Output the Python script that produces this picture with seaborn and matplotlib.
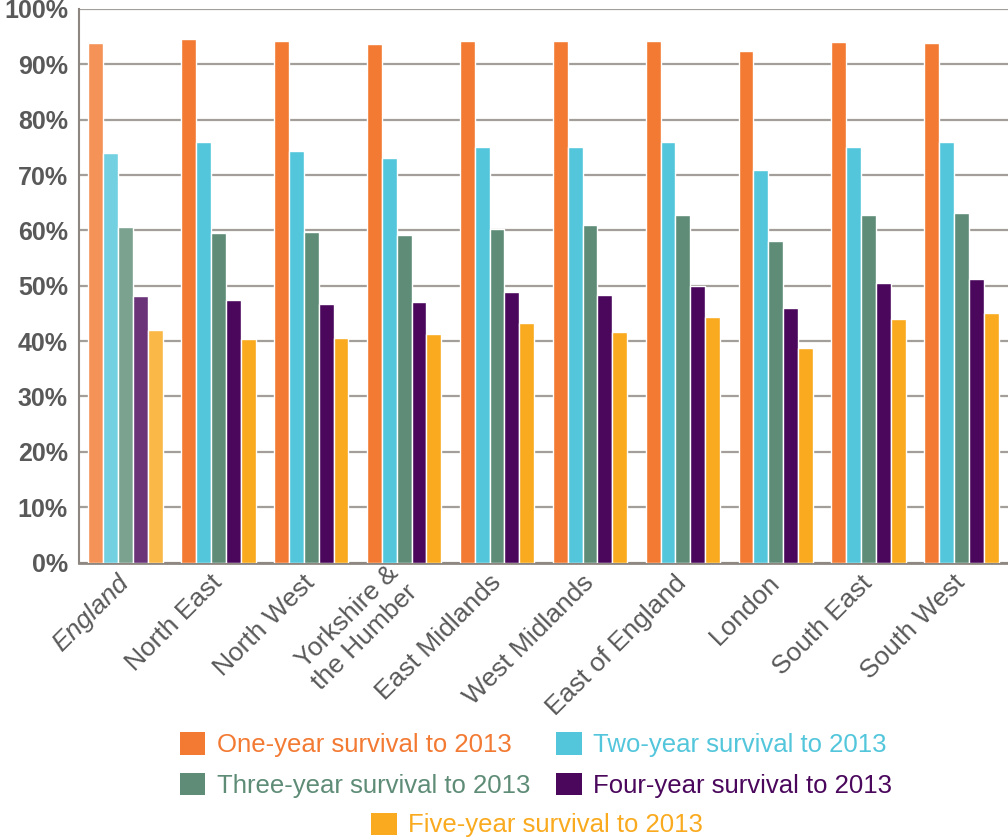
import matplotlib
matplotlib.use("Agg")
import matplotlib.pyplot as plt
import matplotlib.colors as mcolors
from matplotlib.patches import Patch
from matplotlib.ticker import FixedLocator, FuncFormatter
import numpy as np
import pandas as pd
import seaborn as sns

# Survival rates (%) by region
regions = ["England", "North East", "North West", "Yorkshire &\nthe Humber",
           "East Midlands", "West Midlands", "East of England", "London",
           "South East", "South West"]
series_names = ["One-year survival to 2013", "Two-year survival to 2013",
                "Three-year survival to 2013", "Four-year survival to 2013",
                "Five-year survival to 2013"]
one_year = [93.8, 94.5, 94.3, 93.6, 94.3, 94.3, 94.3, 92.5, 94.1, 93.9]
two_year = [73.9, 75.9, 74.4, 73.1, 75.1, 75.0, 75.9, 71.0, 75.1, 75.9]
three_year = [60.7, 59.6, 59.8, 59.2, 60.3, 61.0, 62.8, 58.1, 62.7, 63.2]
four_year = [48.2, 47.5, 46.7, 47.1, 48.9, 48.4, 50.0, 46.0, 50.5, 51.3]
five_year = [42.0, 40.4, 40.6, 41.3, 43.3, 41.7, 44.4, 38.8, 44.0, 45.1]
y_ticks = [0, 10, 20, 30, 40, 50, 60, 70, 80, 90, 100]

colors = ["#F37A33", "#53C6DB", "#5E8C77", "#4A075C", "#F9AA1E"]
text_grey = "#595959"
axis_grey = "#8E8781"
grid_grey = "#A39E99"

values = [one_year, two_year, three_year, four_year, five_year]
df = pd.DataFrame({
    "region": np.repeat([regions], len(series_names), axis=0).ravel(),
    "series": np.repeat(series_names, len(regions)),
    "value": np.concatenate(values),
})

sns.set_style("white")
plt.rcParams["font.family"] = ["Liberation Sans", "DejaVu Sans"]

fig = plt.figure(figsize=(10.08, 8.4), dpi=100)
ax = fig.add_axes([79 / 1008, 1 - 562.5 / 840, 1 - 79 / 1008, 553.5 / 840])

sns.barplot(data=df, x="region", y="value", hue="series", order=regions,
            hue_order=series_names, palette=colors, saturation=1, width=0.8,
            edgecolor="white", linewidth=1.0, legend=False, ax=ax, zorder=3)

# Lighter tint for the national (England) bars
for container, c in zip(ax.containers, colors):
    rgb = np.array(mcolors.to_rgb(c))
    light = rgb + (1 - rgb) * 0.18
    container.patches[0].set_facecolor(light)

ax.set_xlim(-0.5, len(regions) - 0.5)
ax.set_ylim(0, 100)
ax.set_xlabel("")
ax.set_ylabel("")

ax.yaxis.set_major_locator(FixedLocator(y_ticks))
ax.yaxis.set_major_formatter(FuncFormatter(lambda v, p: f"{int(v)}%"))
ax.grid(axis="y", color=grid_grey, linewidth=1.6, zorder=0)
ax.grid(axis="x", visible=False)
ax.set_axisbelow(True)

ax.tick_params(axis="y", length=0, pad=8, labelsize=18, labelcolor=text_grey)
ax.tick_params(axis="x", which="major", length=0, pad=12)
ax.set_xticks(np.arange(0.5, len(regions) - 1, 1.0), minor=True)
ax.tick_params(axis="x", which="minor", direction="in", length=11, width=1.6,
               color=axis_grey)
for lbl in ax.get_yticklabels():
    lbl.set_fontweight("bold")

ax.set_xticks(range(len(regions)))
ax.set_xticklabels(regions, rotation=45, ha="right", va="center",
                   rotation_mode="anchor", fontsize=19, color=text_grey)
ax.get_xticklabels()[0].set_style("italic")

for side in ["top", "right"]:
    ax.spines[side].set_visible(False)
ax.spines["left"].set_color(axis_grey)
ax.spines["left"].set_linewidth(1.5)
ax.spines["bottom"].set_color(axis_grey)
ax.spines["bottom"].set_linewidth(2.0)

# Legend: two rows of two (filled column-wise), then five-year entry centred below
handles = [Patch(facecolor=c, edgecolor="none") for c in colors]
order = [0, 2, 1, 3]
leg_kw = dict(frameon=False, fontsize=18.5, handlelength=1.0, handleheight=0.95,
              handletextpad=0.45, columnspacing=1.0, labelspacing=0.6,
              borderpad=0, borderaxespad=0)
leg1 = fig.legend([handles[i] for i in order], [series_names[i] for i in order],
                  ncol=2, loc="center",
                  bbox_to_anchor=(536 / 1008, 1 - 765 / 840), **leg_kw)
leg2 = fig.legend(handles[4:], series_names[4:], ncol=1, loc="center",
                  bbox_to_anchor=(537 / 1008, 1 - 825 / 840), **leg_kw)
for leg, cols in ((leg1, [colors[i] for i in order]), (leg2, colors[4:])):
    for txt, c in zip(leg.get_texts(), cols):
        txt.set_color(c)

fig.savefig("out.png", dpi=100)
